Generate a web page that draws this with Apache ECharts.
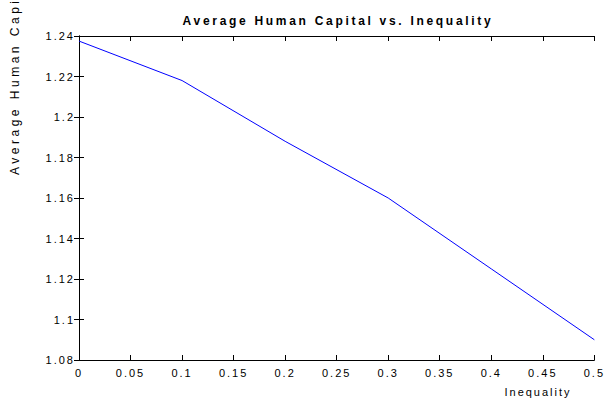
<!DOCTYPE html>
<html>
<head>
<meta charset="utf-8">
<script src="https://cdn.jsdelivr.net/npm/echarts@6/dist/echarts.min.js"></script>
<style>
  html, body { margin: 0; padding: 0; background: #ffffff; }
  #chart { width: 605px; height: 405px; }
  /* wide MATLAB-style text tracking */
  #chart svg text { letter-spacing: 2px; }
</style>
</head>
<body>
<div id="chart"></div>
<script>
// Inequality level and resulting average human capital
const inequality = [0, 0.1, 0.2, 0.3, 0.4, 0.5];
const avgHumanCapital = [1.2375, 1.218, 1.188, 1.160, 1.125, 1.090];

const titleText = 'Average Human Capital vs. Inequality';
const xName = 'Inequality';
const yName = 'Average Human Capital';

const fontFamily = '"Liberation Sans", Arial, sans-serif';

const chart = echarts.init(document.getElementById('chart'), null, { renderer: 'svg' });

const tickStyle = { show: true, inside: true, length: 5, lineStyle: { color: '#000', width: 1 } };
const lineStyle = { show: true, lineStyle: { color: '#000', width: 1 } };

chart.setOption({
  animation: false,
  backgroundColor: '#ffffff',
  grid: { left: 79, top: 36, width: 516, height: 324, containLabel: false },
  xAxis: [
    {
      type: 'value', position: 'bottom', min: 0, max: 0.5, interval: 0.05,
      axisLine: lineStyle, axisTick: tickStyle, splitLine: { show: false },
      axisLabel: { color: '#000', fontSize: 11, fontFamily: fontFamily, margin: 7 }
    },
    {
      type: 'value', position: 'top', min: 0, max: 0.5, interval: 0.05,
      axisLine: lineStyle, axisTick: tickStyle, splitLine: { show: false },
      axisLabel: { show: false }
    }
  ],
  yAxis: [
    {
      type: 'value', position: 'left', min: 1.08, max: 1.24, interval: 0.02,
      axisLine: lineStyle, axisTick: tickStyle, splitLine: { show: false },
      axisLabel: { color: '#000', fontSize: 11, fontFamily: fontFamily, margin: 4 }
    },
    {
      type: 'value', position: 'right', min: 1.08, max: 1.24, interval: 0.02,
      axisLine: lineStyle, axisTick: tickStyle, splitLine: { show: false },
      axisLabel: { show: false }
    }
  ],
  graphic: [
    {
      type: 'text', x: 338, y: 21,
      style: {
        text: titleText, fill: '#000', font: 'bold 12px ' + fontFamily,
        textAlign: 'center', textVerticalAlign: 'middle'
      }
    },
    {
      type: 'text', x: 538, y: 392,
      style: {
        text: xName, fill: '#000', font: '11px ' + fontFamily,
        textAlign: 'center', textVerticalAlign: 'middle'
      }
    },
    {
      type: 'text', x: 15, y: 175, rotation: Math.PI / 2,
      style: {
        text: yName, fill: '#000', font: '12px ' + fontFamily,
        textAlign: 'left', textVerticalAlign: 'middle'
      }
    }
  ],
  series: [
    {
      type: 'line',
      data: inequality.map((x, i) => [x, avgHumanCapital[i]]),
      xAxisIndex: 0, yAxisIndex: 0,
      showSymbol: false, symbol: 'none',
      lineStyle: { color: '#0000ff', width: 1 },
      silent: true
    }
  ]
});

// title and y-axis name use their own tracking
document.querySelectorAll('#chart svg text').forEach(t => {
  if (t.textContent === titleText) t.style.letterSpacing = '2.7px';
  if (t.textContent === yName) t.style.letterSpacing = '3.5px';
});
</script>
</body>
</html>
